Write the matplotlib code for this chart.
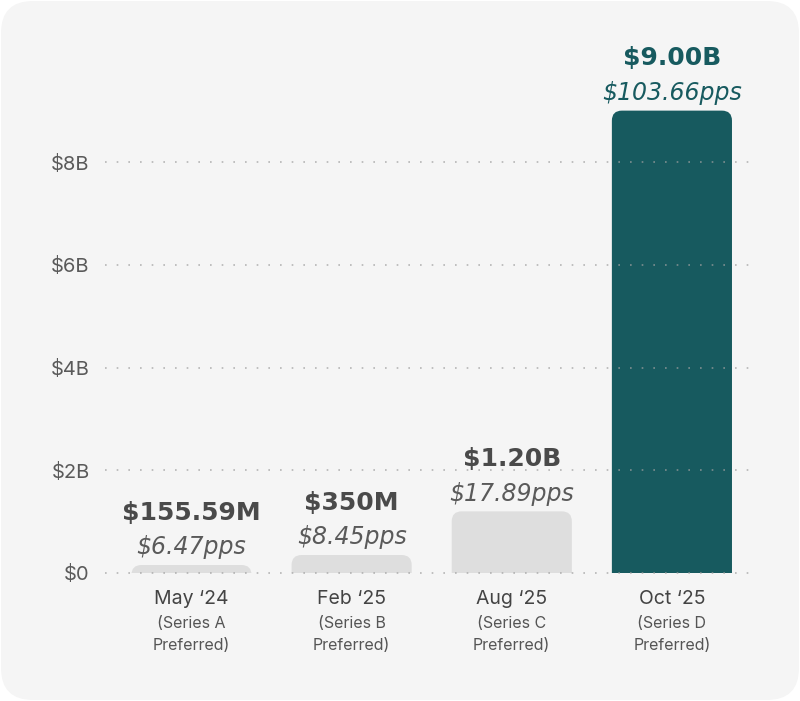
import matplotlib.pyplot as plt
from matplotlib.patches import FancyBboxPatch
from matplotlib.transforms import IdentityTransform, blended_transform_factory

# data (billions of dollars)
dates = ["May \u201824", "Feb \u201825", "Aug \u201825", "Oct \u201825"]
series = ["(Series A\nPreferred)", "(Series B\nPreferred)",
          "(Series C\nPreferred)", "(Series D\nPreferred)"]
raised = [0.15559, 0.35, 1.20, 9.00]
raised_labels = ["\\$155.59M", "\\$350M", "\\$1.20B", "\\$9.00B"]
pps_labels = ["\\$6.47pps", "\\$8.45pps", "\\$17.89pps", "\\$103.66pps"]
yticks = [0, 2, 4, 6, 8]
ytick_labels = ["\\$0", "\\$2B", "\\$4B", "\\$6B", "\\$8B"]

TEAL = "#175a5f"
GRAY_BAR = "#dedede"
BG = "#f5f5f5"

W, H = 800, 701
fig = plt.figure(figsize=(W / 100, H / 100), dpi=100)
fig.patch.set_facecolor("white")

# rounded card background
card = FancyBboxPatch((1, 1), W - 2, H - 2, boxstyle="round,pad=0,rounding_size=32",
                      transform=IdentityTransform(), facecolor=BG, edgecolor="none",
                      zorder=-10)
fig.add_artist(card)

ax = fig.add_axes([105 / W, (H - 573) / H, (752 - 105) / W, (573 - 50) / H])
ax.set_facecolor("none")
x = list(range(len(raised)))
ax.set_xlim(-0.54, 3.5)
ax.set_ylim(0, (573 - 50) / 51.375)

for s in ax.spines.values():
    s.set_visible(False)
ax.set_xticks([])
ax.set_yticks(yticks)
ax.set_yticklabels(ytick_labels, fontsize=14.5, color="#5a5a5a", family="Inter")
ax.tick_params(axis="y", length=0, pad=11)

fig.canvas.draw()
# pixels per data unit
p0 = ax.transData.transform((0, 0))
p1 = ax.transData.transform((1, 1))
px_x = p1[0] - p0[0]
px_y = p1[1] - p0[1]

# dotted gridlines
for t in yticks:
    ax.plot([-0.54, 3.5], [t, t], linestyle=(0, (1, 6)), color="#a0a0a0",
            linewidth=1.2, alpha=0.75, zorder=3, clip_on=False)

width = 0.75
radius_px = 10
for i, v in enumerate(raised):
    color = TEAL if i == len(raised) - 1 else GRAY_BAR
    ext = 14 / px_y
    r = radius_px / px_x
    bar = FancyBboxPatch((x[i] - width / 2, -ext), width, v + ext,
                         boxstyle=f"round,pad=0,rounding_size={r}",
                         mutation_aspect=px_x / px_y,
                         facecolor=color, edgecolor="none", zorder=2)
    ax.add_patch(bar)

    lab_color = TEAL if i == len(raised) - 1 else "#4a4a4a"
    pps_color = TEAL if i == len(raised) - 1 else "#5a5a5a"
    ax.annotate(pps_labels[i], (x[i], v), xytext=(0, 4), textcoords="offset points",
                ha="center", va="bottom", fontsize=17, style="italic",
                color=pps_color, family="DejaVu Sans")
    ax.annotate(raised_labels[i], (x[i], v), xytext=(0, 29), textcoords="offset points",
                ha="center", va="bottom", fontsize=18, fontweight="bold",
                color=lab_color, family="DejaVu Sans")

trans = blended_transform_factory(ax.transData, ax.transAxes)
for i in x:
    ax.text(x[i], -0.032, dates[i], transform=trans, ha="center", va="top",
            fontsize=14, color="#444444", family="Inter")
    ax.text(x[i], -0.082, series[i], transform=trans, ha="center", va="top",
            fontsize=11.5, color="#555555", family="Inter", linespacing=1.6)

fig.savefig("out.png", dpi=100, facecolor="white")
